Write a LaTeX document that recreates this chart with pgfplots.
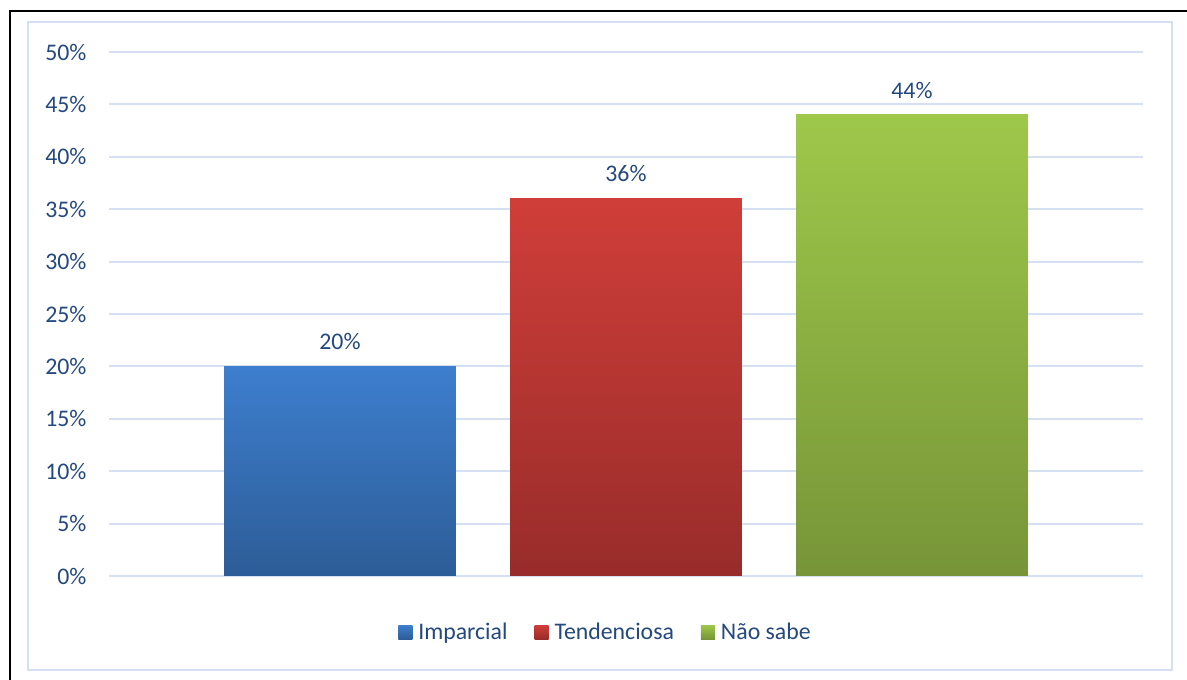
\documentclass[border=0pt]{standalone}
\usepackage{pgfplots}
\pgfplotsset{compat=1.18}
\usepackage{fontspec}
\setmainfont{Carlito}
\definecolor{txt}{HTML}{24497F}
\definecolor{gridc}{HTML}{D5E1F2}
\definecolor{btop}{HTML}{3D7ECE}
\definecolor{bbot}{HTML}{2D5D97}
\definecolor{rtop}{HTML}{D03E39}
\definecolor{rbot}{HTML}{982C2A}
\definecolor{gtop}{HTML}{9EC84A}
\definecolor{gbot}{HTML}{779538}
\begin{document}
\begin{tikzpicture}[x=1pt,y=1pt]
\path[use as bounding box] (0,0) rectangle (1187,680);
\fill[white] (0,0) rectangle (1187,680);
% outer black frame (top and left)
\draw[black, line width=2.6pt] (1187,669) -- (10,669) -- (10,0);
% inner light border
\draw[gridc, line width=2pt] (28,10) rectangle (1172,658);
\begin{axis}[
  at={(109pt,104pt)}, anchor=south west,
  scale only axis,
  width=1034pt, height=524pt,
  xmin=-0.8077, xmax=2.8077,
  ymin=0, ymax=50,
  ybar, bar shift=0pt, bar width=0.811,
  axis line style={draw=none},
  xtick=\empty,
  ytick={0,5,...,50},
  yticklabel={\pgfmathprintnumber{\tick}\%},
  /pgf/number format/assume math mode=true,
  tick style={draw=none},
  yticklabel style={font=\fontsize{23.8}{28}\selectfont, text=txt, xshift=-19pt},
  ymajorgrids,
  grid style={draw=gridc, line width=2pt},
  nodes near coords={\pgfmathprintnumber{\pgfplotspointmeta}\%},
  nodes near coords align={vertical},
  every node near coord/.append style={font=\fontsize{23.8}{28}\selectfont, text=txt, yshift=13pt, /pgf/number format/assume math mode=true},
  legend columns=3,
  legend style={at={(0.4797,-0.107)}, anchor=center, draw=none, fill=none,
    font=\fontsize{23.8}{28}\selectfont, text=txt,
    /tikz/every odd column/.append style={column sep=5pt},
    /tikz/every even column/.append style={column sep=26pt},
    nodes={inner sep=1pt}},
  legend image code/.code={\path[#1, draw=none] (0pt,-7pt) rectangle (14pt,7pt);},
]
\addplot[draw=none, shade, top color=btop, bottom color=bbot] coordinates {(0,20)};
\addlegendentry{Imparcial}
\addplot[draw=none, shade, top color=rtop, bottom color=rbot] coordinates {(1,36)};
\addlegendentry{Tendenciosa}
\addplot[draw=none, shade, top color=gtop, bottom color=gbot] coordinates {(2,44)};
\addlegendentry{Não sabe}
\end{axis}
\end{tikzpicture}
\end{document}
